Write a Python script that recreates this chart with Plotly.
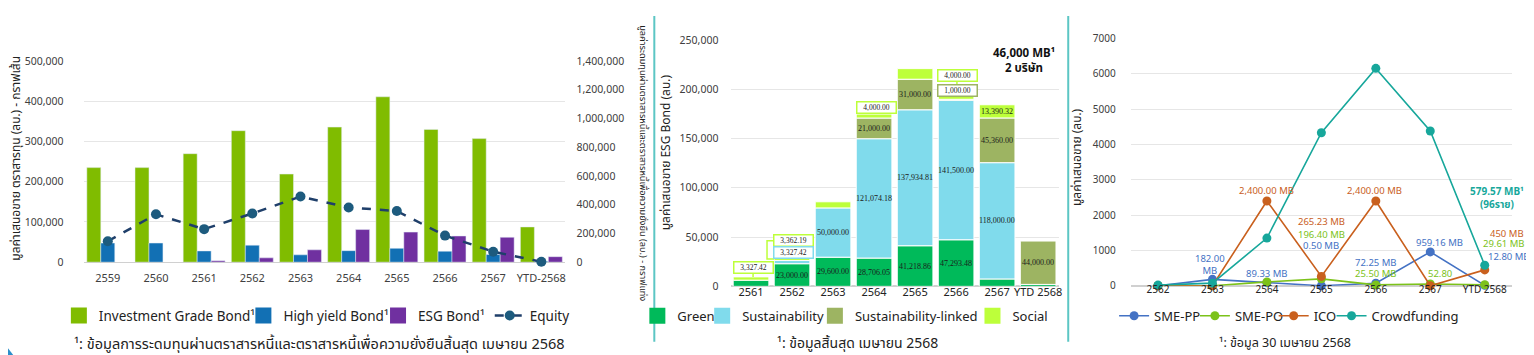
import plotly.graph_objects as go

W, H = 1534, 355


def px(x):
    return x / W


def py(y):
    return 1 - y / H


FONT = "Noto Sans, Noto Sans Thai, Tahoma, sans-serif"
SERIF = "Liberation Serif, Times New Roman, serif"
TXT = "#404040"
DARK = "#222222"
GRID = "#E6E6E6"
ZERO = "#D0D0D0"
CLEAR = "rgba(0,0,0,0)"

# ---------------- Panel 1 data ----------------
years1 = ["2559", "2560", "2561", "2562", "2563", "2564", "2565", "2566", "2567", "YTD-2568"]
ig_bond = [658000, 658000, 755000, 915000, 613000, 940000, 1151000, 924000, 860000, 245000]
hy_bond = [133000, 133000, 78000, 118000, 51000, 80000, 96000, 76000, 53000, 6000]
esg_bond = [None, None, 9600, 29700, 85800, 227000, 209000, 182000, 173000, 38000]
equity = [52000, 119000, 82000, 121000, 163000, 136000, 127000, 66000, 26000, 1000]
ticks1_left = [0, 100000, 200000, 300000, 400000, 500000]
ticks1_right = [0, 200000, 400000, 600000, 800000, 1000000, 1200000, 1400000]

# ---------------- Panel 2 data ----------------
years2 = ["2561", "2562", "2563", "2564", "2565", "2566", "2567", "YTD 2568"]
green = [6300, 23000, 29600, 28706.05, 41218.86, 47293.48, 7500, 2000]
sustain = [0, 3327.42, 50000, 121074.18, 137934.81, 141500, 118000, 0]
sus_linked = [0, 0, 0, 21000, 31000, 1000, 45360, 44000]
social = [3327.42, 3362.19, 6200, 4000, 10750, 4000, 13390.32, 0]
# which segments carry an in-bar value label
green_lbl = [0, 1, 1, 1, 1, 1, 0, 0]
sustain_lbl = [0, 0, 1, 1, 1, 1, 1, 0]
sl_lbl = [0, 0, 0, 1, 1, 0, 1, 1]
social_lbl = [0, 0, 0, 0, 0, 0, 1, 0]

# ---------------- Panel 3 data ----------------
years3 = ["2562", "2563", "2564", "2565", "2566", "2567", "YTD 2568"]
sme_pp = [0, 182.00, 89.33, 0.50, 72.25, 959.16, 12.80]
sme_po = [0, 0, 110, 196.40, 25.50, 52.80, 29.61]
ico = [0, 0, 2400, 265.23, 2400, 0, 450]
crowd = [20, 75, 1350, 4330, 6150, 4380, 579.57]

C_IG, C_HY, C_ESG = "#80BC00", "#1270B4", "#7030A0"
C_EQ_LINE, C_EQ_MK = "#1F3F6A", "#1D5B7E"
C_GREEN, C_SUS, C_SL, C_SOC = "#00BA5A", "#80DBEC", "#9DB462", "#BDFF3A"
C_PP, C_PO, C_ICO, C_CF = "#4472C4", "#7CC21A", "#C9601E", "#17A79B"

fig = go.Figure()
legend_layout = {}
leg_counter = [0]
TEXT_OFF = 46


def new_legend(text_x, size):
    leg_counter[0] += 1
    key = "legend" if leg_counter[0] == 1 else f"legend{leg_counter[0]}"
    legend_layout[key] = dict(orientation="h", x=px(text_x - TEXT_OFF), y=py(313),
                              xanchor="left", yanchor="middle", bgcolor=CLEAR,
                              font=dict(family=FONT, size=size, color=DARK))
    return key


def square_entry(name, col, xa, ya, text_x, size):
    fig.add_scatter(x=[None], y=[None], mode="markers", name=name,
                    marker=dict(symbol="square", size=16, color=col),
                    xaxis=xa, yaxis=ya, legend=new_legend(text_x, size))


# ---- panel 1 traces
for name, vals, col, tx in [("Investment Grade Bond¹", ig_bond, C_IG, 97),
                            ("High yield Bond¹", hy_bond, C_HY, 282),
                            ("ESG Bond¹", esg_bond, C_ESG, 417)]:
    fig.add_bar(x=years1, y=vals, name=name, marker_color=col, showlegend=False,
                xaxis="x", yaxis="y")
    square_entry(name, col, "x", "y", tx, 13.5)
fig.add_scatter(x=years1, y=equity, name="Equity", mode="lines+markers",
                line=dict(color=C_EQ_LINE, width=2.5, dash="dash"),
                marker=dict(size=10, color=C_EQ_MK), cliponaxis=False,
                xaxis="x", yaxis="y2", legend=new_legend(529, 13.5))

# ---- panel 2 traces (stacked via base)
series2 = [("Green", green, C_GREEN, green_lbl, 677),
           ("Sustainability", sustain, C_SUS, sustain_lbl, 742),
           ("Sustainability-linked", sus_linked, C_SL, sl_lbl, 855),
           ("Social", social, C_SOC, social_lbl, 1013)]
base = [0] * len(years2)
seg_labels = []
for name, vals, col, flags, tx in series2:
    fig.add_bar(x=years2, y=[v if v else None for v in vals], base=list(base), name=name,
                marker=dict(color=col, line=dict(color="white", width=1)),
                offsetgroup="esg", xaxis="x2", yaxis="y3", showlegend=False)
    square_entry(name, col, "x2", "y3", tx, 13)
    for i, (v, f) in enumerate(zip(vals, flags)):
        if f:
            seg_labels.append((i, base[i] + v / 2, f"{v:,.2f}"))
    base = [b + v for b, v in zip(base, vals)]

# ---- panel 3 traces
for name, vals, col, tx in [("SME-PP", sme_pp, C_PP, 1155), ("SME-PO", sme_po, C_PO, 1236),
                            ("ICO", ico, C_ICO, 1315), ("Crowdfunding", crowd, C_CF, 1373)]:
    fig.add_scatter(x=years3, y=vals, name=name, mode="lines+markers",
                    line=dict(color=col, width=1.6), marker=dict(size=9, color=col),
                    cliponaxis=False, xaxis="x3", yaxis="y4", legend=new_legend(tx, 13))

tickfont = dict(family=FONT, size=10.5, color=TXT)

fig.update_layout(
    width=W, height=H,
    margin=dict(l=0, r=0, t=0, b=0),
    paper_bgcolor="white", plot_bgcolor="white",
    font=dict(family=FONT, color=TXT),
    barmode="group", bargap=0.13, bargroupgap=0,
    # panel 1
    xaxis=dict(domain=[px(75.9), px(558.9)], anchor="y", type="category",
               range=[-0.5, len(years1) - 0.5], tickangle=0,
               ticks="outside", ticklen=6, tickcolor=CLEAR, showgrid=False,
               tickfont=dict(family=FONT, size=11, color=TXT)),
    yaxis=dict(domain=[py(257), py(47)], range=[0, 1400000], side="right", anchor="x",
               tickmode="array", tickvals=ticks1_right, tickformat=",",
               ticks="outside", ticklen=8, tickcolor=CLEAR, showgrid=False,
               zeroline=True, zerolinecolor=ZERO, zerolinewidth=1,
               minor=dict(tickmode="array", tickvals=[v * 2.8 for v in ticks1_left],
                          showgrid=True, gridcolor=GRID, ticks=""),
               tickfont=tickfont),
    yaxis2=dict(overlaying="y", side="left", anchor="x", range=[0, 500000],
                tickmode="array", tickvals=ticks1_left, tickformat=",",
                ticks="outside", ticklen=17, tickcolor=CLEAR, showgrid=False,
                zeroline=False, tickfont=tickfont),
    # panel 2
    xaxis2=dict(domain=[px(724.4), px(1053.4)], anchor="y3", type="category",
                range=[-0.5, len(years2) - 0.5], tickangle=0,
                ticks="", ticklabelstandoff=-2, showgrid=False,
                tickfont=dict(family=FONT, size=11, color=DARK)),
    yaxis3=dict(domain=[py(282.3), py(25)], anchor="x2", range=[0, 250000], dtick=50000,
                tickformat=",", ticks="outside", ticklen=9, tickcolor=CLEAR,
                showgrid=True, gridcolor=GRID, zeroline=True, zerolinecolor=ZERO,
                tickfont=tickfont),
    # panel 3
    xaxis3=dict(domain=[px(1125.7), px(1507.9)], anchor="y4", type="category",
                range=[-0.5, len(years3) - 0.5], tickangle=0,
                ticks="", ticklabelstandoff=-4, showgrid=False,
                tickfont=dict(family=FONT, size=10, color=DARK)),
    yaxis4=dict(domain=[py(281.7), py(23.3)], anchor="x3", range=[0, 7000], dtick=1000,
                ticks="outside", ticklen=12, tickcolor=CLEAR,
                showgrid=True, gridcolor=GRID, zeroline=True, zerolinecolor=ZERO,
                tickfont=dict(family=FONT, size=10, color=TXT)),
    showlegend=True,
    **legend_layout,
)

ann = []
# axis titles
ann.append(dict(x=px(8), y=py(148), xref="paper", yref="paper", showarrow=False,
                xanchor="center", yanchor="middle",
                text="มูลค่าเสนอขาย ตราสารทุน (ลบ.) - กราฟเส้น", textangle=-90,
                font=dict(family=FONT, size=12, color=DARK)))
ann.append(dict(x=px(637), y=py(154), xref="paper", yref="paper", showarrow=False,
                xanchor="center", yanchor="middle",
                text="มูลค่าระดมทุนผ่านตราสารหนี้และตราสารหนี้เพื่อความยั่งยืน (ลบ.) - กราฟแท่ง",
                textangle=90, font=dict(family=FONT, size=9.2, color=DARK)))
ann.append(dict(x=px(659), y=py(142), xref="paper", yref="paper", showarrow=False,
                xanchor="center", yanchor="middle",
                text="มูลค่าเสนอขาย ESG Bond (ลบ.)", textangle=-90,
                font=dict(family=FONT, size=12, color=DARK)))
ann.append(dict(x=px(1072), y=py(147), xref="paper", yref="paper", showarrow=False,
                xanchor="center", yanchor="middle",
                text="มูลค่าเสนอขาย (ลบ.)", textangle=-90,
                font=dict(family=FONT, size=12, color=DARK)))
# footnotes
for cx, t, fs in [(312, "¹: ข้อมูลการระดมทุนผ่านตราสารหนี้และตราสารหนี้เพื่อความยั่งยืนสิ้นสุด เมษายน 2568", 14.5),
                  (852, "¹: ข้อมูลสิ้นสุด เมษายน 2568", 14),
                  (1280, "¹: ข้อมูล 30 เมษายน 2568", 12.5)]:
    ann.append(dict(x=px(cx), y=py(341), xref="paper", yref="paper", showarrow=False,
                    xanchor="center", yanchor="middle",
                    text=t, font=dict(family=FONT, size=fs, color=DARK)))

# panel 2 in-bar labels (x given as category index)
for xi, yc, t in seg_labels:
    ann.append(dict(x=xi, y=yc, xref="x2", yref="y3", showarrow=False, text=t,
                    font=dict(family=SERIF, size=8, color="#1a1a1a")))


# panel 2 callouts
def callout(xi, yval, t, col, xshift=0):
    return dict(x=xi, y=yval, xref="x2", yref="y3", showarrow=False, text=t,
                xshift=xshift, bgcolor="white", bordercolor=col, borderwidth=1.5,
                borderpad=1, width=36, height=8,
                font=dict(family=SERIF, size=7.5, color="#1a1a1a"))


ann.append(callout(0, 19000, f"{social[0]:,.2f}", C_SOC, 2))
ann.append(callout(1, 46250, f"{social[1]:,.2f}", C_SOC, 1))
ann.append(callout(1, 34000, f"{sustain[1]:,.2f}", C_SUS, 1))
ann.append(callout(3, 181300, f"{social[3]:,.2f}", C_SOC, 2))
ann.append(callout(5, 214360, f"{social[5]:,.2f}", C_SOC, 1))
ann.append(callout(5, 198800, f"{sus_linked[5]:,.2f}", C_SL, 1))

ann.append(dict(x=px(1019), y=py(45.5), xref="paper", yref="paper", showarrow=False,
                xanchor="center", yanchor="middle",
                text="<b>46,000 MB¹</b><br><b>2 บริษัท</b>",
                font=dict(family=FONT, size=11.5, color="#111111")))

# panel 3 data labels: (series values, index, text, colour, xshift, yshift)
lab3 = [
    (sme_pp, 1, "182.00<br>MB", C_PP, -2, 15),
    (sme_pp, 2, "89.33 MB", C_PP, 0, 9),
    (ico, 2, "2,400.00 MB", C_ICO, 0, 10),
    (ico, 3, "265.23 MB", C_ICO, 0, 55),
    (sme_po, 3, "196.40 MB", C_PO, 0, 44),
    (sme_pp, 3, "0.50 MB", C_PP, 0, 40),
    (ico, 4, "2,400.00 MB", C_ICO, -1, 10),
    (sme_pp, 4, "72.25 MB", C_PP, 0, 21),
    (sme_po, 4, "25.50 MB", C_PO, 0, 11),
    (sme_pp, 5, "959.16 MB", C_PP, 9, 9),
    (sme_po, 5, "52.80", C_PO, 10, 10),
    (ico, 6, "450 MB", C_ICO, 22, 36),
    (sme_po, 6, "29.61 MB", C_PO, 19, 41),
    (sme_pp, 6, "12.80 MB", C_PP, 24, 29),
]
for vals, i, t, col, xs, ys in lab3:
    ann.append(dict(x=i, y=vals[i], xref="x3", yref="y4", showarrow=False, text=t,
                    xshift=xs, yshift=ys, font=dict(family=FONT, size=9.5, color=col)))
ann.append(dict(x=6, y=crowd[6], xref="x3", yref="y4", showarrow=False,
                text="<b>579.57 MB¹</b><br><b>(96ราย)</b>", xshift=12, yshift=68,
                font=dict(family=FONT, size=10, color=C_CF)))

fig.update_layout(annotations=ann)

shapes = []
# dividers
for x in (648, 1063):
    shapes.append(dict(type="line", xref="paper", yref="paper", x0=px(x), x1=px(x),
                       y0=py(0), y1=py(340), line=dict(color="#5CC6C4", width=2)))
# card corners
shapes.append(dict(type="path", xref="paper", yref="paper", fillcolor="#2B8FCB",
                   line=dict(width=0),
                   path=f"M 0 {py(347)} L {px(6)} 0 L 0 0 Z"))
shapes.append(dict(type="path", xref="paper", yref="paper", fillcolor="#2B8FCB",
                   line=dict(width=0),
                   path=f"M 1 {py(343)} L {px(1526)} 0 L 1 0 Z"))
# callout connectors (panel 2) in category-index units
shapes.append(dict(type="line", xref="x2", yref="y3", x0=0.05, x1=0.05, y0=14300, y1=9600,
                   line=dict(color=C_SOC, width=1.5)))
shapes.append(dict(type="path", xref="x2", yref="y3",
                   path="M 0.56 46250 L 0.39 46250 L 0.39 27800 L 0.57 27800",
                   line=dict(color=C_SOC, width=1.5)))
shapes.append(dict(type="line", xref="x2", yref="y3", x0=3.05, x1=3.05, y0=177100, y1=174800,
                   line=dict(color=C_SOC, width=1.5)))
shapes.append(dict(type="line", xref="x2", yref="y3", x0=5.02, x1=5.02, y0=210200, y1=202900,
                   line=dict(color=C_SOC, width=1.5)))
fig.update_layout(shapes=shapes)

fig.write_html("out.html")
